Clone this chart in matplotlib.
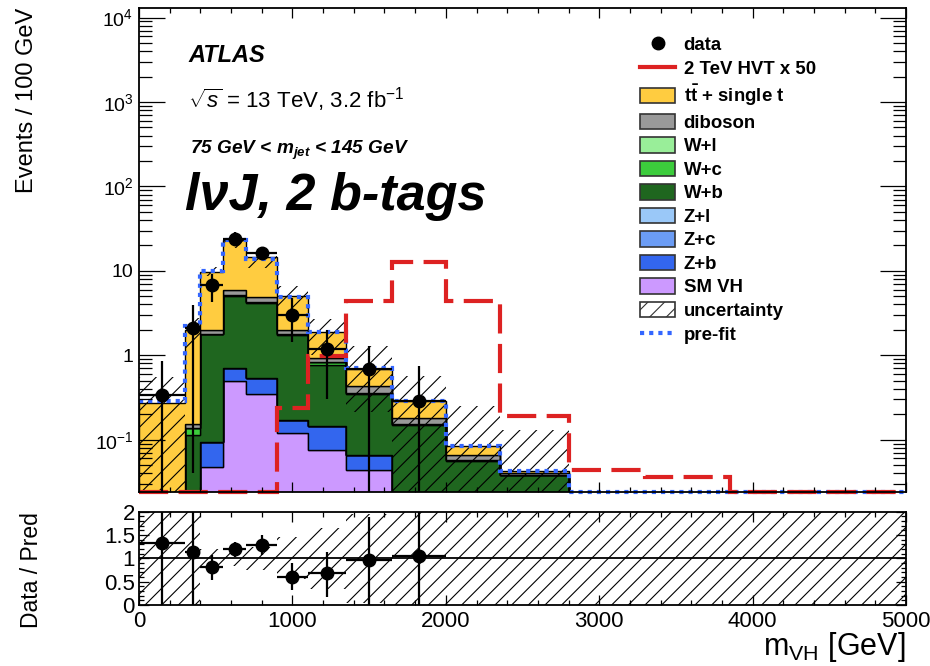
import matplotlib
matplotlib.use('Agg')
import matplotlib.pyplot as plt
from matplotlib.patches import Patch
from matplotlib.lines import Line2D
from matplotlib.ticker import LogLocator, MultipleLocator, FuncFormatter, NullFormatter
import numpy as np

plt.rcParams['font.family'] = ['Liberation Sans', 'DejaVu Sans']
plt.rcParams['mathtext.fontset'] = 'custom'
plt.rcParams['mathtext.rm'] = 'Liberation Sans'
plt.rcParams['mathtext.it'] = 'Liberation Sans:italic'
plt.rcParams['mathtext.bf'] = 'Liberation Sans:bold'
plt.rcParams['mathtext.bfit'] = 'Liberation Sans:italic:bold'
plt.rcParams['hatch.linewidth'] = 0.8

# m_VH binning [GeV]
edges = np.array([0, 300, 400, 550, 700, 900, 1100, 1350, 1650, 2000, 2350, 2800, 3300, 3850, 5000])

# backgrounds, events / 100 GeV (stacked from bottom to top)
sm_vh   = [0, 0, 0.048, 0.49, 0.35, 0.12, 0.075, 0.044, 0, 0, 0, 0, 0, 0]
z_b     = [0, 0, 0.045, 0.22, 0.19, 0.053, 0.069, 0.022, 0, 0, 0, 0, 0, 0]
z_c     = [0, 0, 0, 0, 0, 0, 0, 0, 0, 0, 0, 0, 0, 0]
z_l     = [0, 0, 0, 0, 0, 0, 0, 0, 0, 0, 0, 0, 0, 0]
w_b     = [0, 0.115, 1.687, 4.39, 3.66, 1.587, 0.616, 0.284, 0.15, 0.056, 0.038, 0, 0, 0]
w_c     = [0, 0.024, 0, 0.1, 0.04, 0.02, 0.07, 0.01, 0.005, 0.002, 0, 0, 0, 0]
w_l     = [0, 0, 0, 0, 0, 0, 0, 0, 0, 0, 0, 0, 0, 0]
diboson = [0, 0.016, 0.2, 0.8, 0.62, 0.21, 0.09, 0.07, 0.025, 0.008, 0.002, 0, 0, 0]
ttbar   = [0.27, 1.845, 7.82, 17.0, 9.64, 3.09, 0.94, 0.25, 0.106, 0.017, 0.002, 0, 0, 0]

prefit  = [0.29, 2.2, 10.0, 23.5, 13.8, 4.9, 1.89, 0.71, 0.29, 0.084, 0.042, 0, 0, 0]
hvt_x50 = [0, 0, 0, 0, 0, 0.24, 0.97, 4.4, 12.6, 4.4, 0.19, 0.044, 0.0366, 0]
unc_lo  = [0, 1.2, 8.6, 18.5, 10.8, 3.5, 1.0, 0.21, 0, 0, 0, 0, 0, 0]
unc_hi  = [0.56, 2.8, 11.0, 24.0, 15.0, 6.7, 2.7, 1.29, 0.57, 0.25, 0.13, 0, 0, 0]

# data (first 9 bins)
data_y  = [0.34, 2.08, 6.8, 24.0, 16.2, 3.02, 1.2, 0.68, 0.286]
data_dn = [0.34, 2.04, 2.56, 4.5, 2.3, 1.6, 0.9, 0.68, 0.286]
data_up = [0.51, 1.82, 2.4, 5.0, 3.2, 1.8, 0.8, 0.61, 0.46]

# ratio panel
ratio_y   = [1.32, 1.14, 0.82, 1.21, 1.29, 0.61, 0.68, 0.96, 1.05]
ratio_dn  = [1.32, 1.14, 0.28, 0.18, 0.22, 0.29, 0.5, 0.96, 1.05]
ratio_up  = [1.5, 1.5, 0.25, 0.15, 0.21, 0.28, 0.46, 0.93, 1.5]
ratio_unc = [1.5, 1.5, 0.2, 0.17, 0.25, 0.45, 0.65, 0.95, 1.5, 1.5, 1.5, 1.5, 1.5, 1.5]

components = [
    ('SM VH', sm_vh, '#cc99ff'),
    ('Z+b', z_b, '#3366ee'),
    ('Z+c', z_c, '#6b9cf4'),
    ('Z+l', z_l, '#9ac8f8'),
    ('W+b', w_b, '#1f661f'),
    ('W+c', w_c, '#3ccc3c'),
    ('W+l', w_l, '#99ee99'),
    ('diboson', diboson, '#999999'),
    (r'$\mathbf{t\bar{t}}$ + single t', ttbar, '#ffcc40'),
]

ymin, ymax = 0.024, 1.3e4
floor = 1e-4
red = '#dd2222'
blue = '#3366ff'

fig = plt.figure(figsize=(9.3, 6.66), dpi=100)
ax = fig.add_axes([0.1495, 0.2613, 0.8247, 0.7267])
rax = fig.add_axes([0.1495, 0.0916, 0.8247, 0.1401], sharex=ax)

# stacked backgrounds
bottom = np.zeros(len(edges) - 1)
for name, vals, col in components:
    top = bottom + np.array(vals)
    ax.stairs(np.maximum(top, floor), edges, baseline=np.maximum(bottom, floor),
              fill=True, facecolor=col, edgecolor='black', linewidth=1.0)
    bottom = top

# uncertainty band
ax.stairs(np.maximum(unc_hi, floor), edges, baseline=np.maximum(unc_lo, floor),
          fill=True, facecolor='none', edgecolor='black', linewidth=0, hatch='//')

# pre-fit and signal
ax.stairs(np.maximum(prefit, ymin), edges, baseline=None, color=blue, lw=3,
          ls=(0, (1, 1.2)), clip_on=False)
ax.stairs(np.maximum(hvt_x50, ymin), edges, baseline=None, color=red, lw=3,
          ls=(0, (7, 2.5)), clip_on=False)

# data
centers = 0.5 * (edges[:-1] + edges[1:])
half = 0.5 * (edges[1:] - edges[:-1])
nd = len(data_y)
dy = np.array(data_y)
lo = np.minimum(data_dn, dy - ymin)
ax.errorbar(centers[:nd], dy, xerr=half[:nd], yerr=[lo, data_up], fmt='o',
            color='black', ms=9, elinewidth=1.6, capsize=0, zorder=5)

ax.set_yscale('log')
ax.set_ylim(ymin, ymax)
ax.set_xlim(0, 5000)

def log_label(v, pos):
    if np.isclose(v, 1):
        return '1'
    if np.isclose(v, 10):
        return '10'
    return r'$10^{%d}$' % int(round(np.log10(v)))

ax.yaxis.set_major_locator(LogLocator(base=10, numticks=20))
ax.yaxis.set_major_formatter(FuncFormatter(log_label))
ax.yaxis.set_minor_locator(LogLocator(base=10, subs=np.arange(2, 10), numticks=20))
ax.yaxis.set_minor_formatter(NullFormatter())
ax.xaxis.set_major_locator(MultipleLocator(1000))
ax.xaxis.set_minor_locator(MultipleLocator(200))
ax.tick_params(axis='x', labelbottom=False)

for a in (ax, rax):
    a.tick_params(which='both', direction='in', top=True, right=True, width=0.9)
    for s in a.spines.values():
        s.set_linewidth(1.3)
ax.tick_params(axis='y', which='major', length=19, labelsize=14, pad=4)
ax.tick_params(axis='y', which='minor', length=9.5)
ax.tick_params(axis='x', which='major', length=7)
ax.tick_params(axis='x', which='minor', length=3.6)

# ratio
rax.stairs(1 + np.array(ratio_unc), edges, baseline=1 - np.array(ratio_unc),
           fill=True, facecolor='none', edgecolor='black', linewidth=0, hatch='//')
rax.axhline(1, color='black', lw=1.3)
rax.errorbar(centers[:nd], ratio_y, xerr=half[:nd], yerr=[ratio_dn, ratio_up], fmt='o',
             color='black', ms=9, elinewidth=1.6, capsize=0, zorder=5)
rax.set_ylim(0, 2)
rax.set_yticks([0, 0.5, 1, 1.5, 2])
rax.set_yticklabels(['0', '0.5', '1', '1.5', '2'])
rax.yaxis.set_minor_locator(MultipleLocator(0.1))
rax.tick_params(axis='y', which='major', length=7, labelsize=16, pad=3)
rax.tick_params(axis='y', which='minor', length=3.5)
rax.tick_params(axis='x', which='major', length=7, labelsize=16, pad=4)
rax.tick_params(axis='x', which='minor', length=3.6)

# labels
fig.text(27 / 930, 1 - 8 / 666, 'Events / 100 GeV', rotation=90, ha='center', va='top', fontsize=17)
fig.text(32 / 930, 1 - 570 / 666, 'Data / Pred', rotation=90, ha='center', va='center', fontsize=16.5)
fig.text(906 / 930, 11 / 666, r'$\mathrm{m}_{\mathrm{VH}}$ [GeV]', ha='right', va='baseline', fontsize=22)

ax.text(0.064, 0.888, 'ATLAS', transform=ax.transAxes, fontsize=17,
        fontweight='bold', fontstyle='italic', va='baseline')
ax.text(0.064, 0.793, r'$\sqrt{s}$ = 13 TeV, 3.2 fb$^{-1}$', transform=ax.transAxes,
        fontsize=16, va='baseline')
ax.text(0.066, 0.698, r'75 GeV < $\mathbfit{m}_{\mathbfit{jet}}$ < 145 GeV', transform=ax.transAxes,
        fontsize=13.7, fontweight='bold', fontstyle='italic', va='baseline')
ax.text(0.06, 0.583, 'lνJ, 2 b-tags', transform=ax.transAxes, fontsize=37.5,
        fontweight='bold', fontstyle='italic', va='baseline')

# legend
handles = [
    Line2D([], [], marker='o', color='black', ls='none', ms=9),
    Line2D([], [], color=red, lw=3),
]
labels = ['data', '2 TeV HVT x 50']
for name, vals, col in components[::-1]:
    handles.append(Patch(facecolor=col, edgecolor='#333333', lw=1.2))
    labels.append(name)
handles.append(Patch(facecolor='white', edgecolor='#333333', hatch='//', lw=1.2))
labels.append('uncertainty')
handles.append(Line2D([], [], color=blue, lw=3, ls=(0, (1, 1.2))))
labels.append('pre-fit')

fig.legend(handles, labels, loc='upper left', bbox_to_anchor=(640 / 930, 1 - 36 / 666),
           frameon=False, borderpad=0, borderaxespad=0, handlelength=1.9, handleheight=0.9,
           handletextpad=0.45, labelspacing=0.29, prop={'weight': 'bold', 'size': 13.4})

fig.savefig('out.png', dpi=100)
